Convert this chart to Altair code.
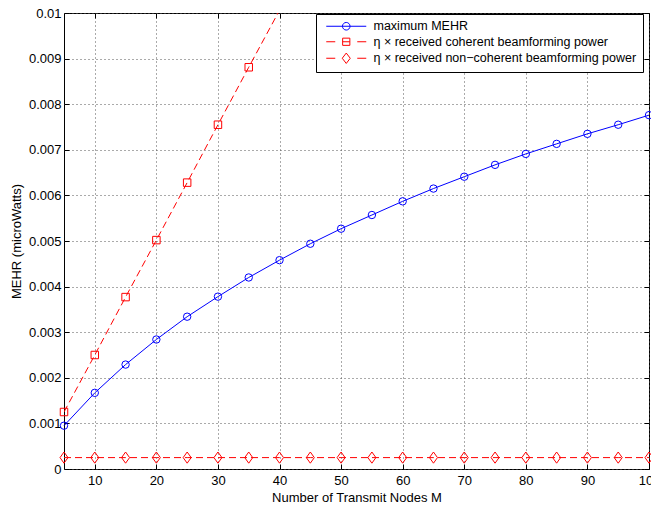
import altair as alt
import pandas as pd

FONT = "Liberation Sans"

# ---- data ----
M = [5, 10, 15, 20, 25, 30, 35, 40, 45, 50, 55, 60, 65, 70, 75, 80, 85, 90, 95, 100]
mehr = [0.00095, 0.00167, 0.00229, 0.00284, 0.00334, 0.00378, 0.00420, 0.00458,
        0.00494, 0.00527, 0.00557, 0.00587, 0.00615, 0.00641, 0.00667, 0.00691,
        0.00713, 0.00735, 0.00755, 0.00776]
M_coh = [5, 10, 15, 20, 25, 30, 35, 40]
coherent = [0.00125, 0.0025, 0.00377, 0.00502, 0.00628, 0.00755, 0.00881, 0.01006]
noncoherent = [0.00025, 0.00025, 0.00025, 0.00025, 0.00025, 0.00025, 0.00025,
               0.00025, 0.00025, 0.00025, 0.00025, 0.00025, 0.00025, 0.00025,
               0.00025, 0.00025, 0.00025, 0.00025, 0.00025, 0.00025]

series_names = ["maximum MEHR",
                "η × received coherent beamforming power",
                "η × received non−coherent beamforming power"]
series_colors = ["#0000ff", "#ff0000", "#ff0000"]

x_ticks = [10, 20, 30, 40, 50, 60, 70, 80, 90, 100]
y_ticks = [0, 0.001, 0.002, 0.003, 0.004, 0.005, 0.006, 0.007, 0.008, 0.009, 0.01]

# legend symbols: line segment(s) with the marker in the middle
legend_paths = [
    "M-5,0H5M0.95,0A0.95,0.95,0,1,1,-0.95,0A0.95,0.95,0,1,1,0.95,0",
    "M-5,0H-2.75M2.75,0H5M-0.9,-0.9H0.9V0.9H-0.9ZM-0.9,0H0.9",
    "M-5,0H-2.75M2.75,0H5M0,-1.3L1,0L0,1.3L-1,0Z",
]
diamond = "M0,-1.4L1,0L0,1.4L-1,0Z"

df_mehr = pd.DataFrame({"M": M, "value": mehr, "series": series_names[0]})
df_coh = pd.DataFrame({"M": M_coh, "value": coherent, "series": series_names[1]})
df_non = pd.DataFrame({"M": M, "value": noncoherent, "series": series_names[2]})
df_all = pd.concat([df_mehr, df_coh, df_non], ignore_index=True)

xs = alt.Scale(domain=[5, 100], nice=False, zero=False)
ys = alt.Scale(domain=[0, 0.01], nice=False, zero=False)

GRID = dict(grid=True, gridColor="#555555", gridDash=[1, 3], gridWidth=1)

ax_x_main = alt.Axis(orient="bottom", values=x_ticks, ticks=False, tickSize=0,
                     domain=False, labelPadding=5, labelFlush=False,
                     labelOverlap=False, title="Number of Transmit Nodes M",
                     titlePadding=4, **GRID)
ax_y_main = alt.Axis(orient="left", values=y_ticks, format=".3~f", ticks=False,
                     tickSize=0, domain=False, labelPadding=3, labelFlush=False,
                     labelOverlap=False, title="MEHR (microWatts)",
                     titlePadding=5, **GRID)


def tick_axis(orient, vals):
    return alt.Axis(orient=orient, values=vals, offset=-5, tickSize=5,
                    ticks=True, tickColor="black", tickWidth=1, labels=False,
                    domain=False, grid=False, title=None)


def enc(layer, xaxis=None, yaxis=None):
    xa = alt.X("M:Q", scale=xs, axis=xaxis)
    ya = alt.Y("value:Q", scale=ys, axis=yaxis)
    return layer.encode(x=xa, y=ya)


line_mehr = enc(alt.Chart(df_mehr).mark_line(color="#0000ff", strokeWidth=1),
                ax_x_main, ax_y_main)
pts_mehr = enc(alt.Chart(df_mehr).mark_point(shape="circle", filled=False,
                                             color="#0000ff", size=55,
                                             strokeWidth=1, opacity=1))
line_coh = enc(alt.Chart(df_coh).mark_line(color="#ff0000", strokeWidth=1,
                                           strokeDash=[7, 4], clip=True),
               tick_axis("bottom", x_ticks), tick_axis("left", y_ticks))
pts_coh = enc(alt.Chart(df_coh).transform_filter(alt.datum.value <= 0.01)
              .mark_point(shape="square", filled=False, color="#ff0000",
                          size=56, strokeWidth=1, opacity=1))
line_non = enc(alt.Chart(df_non).mark_line(color="#ff0000", strokeWidth=1,
                                           strokeDash=[7, 4]),
               tick_axis("top", x_ticks), tick_axis("right", y_ticks))
pts_non = enc(alt.Chart(df_non).mark_point(shape=diamond, filled=False,
                                           color="#ff0000", size=64,
                                           strokeWidth=1, opacity=1))

leg_props = dict(title=None, orient="none", legendX=252, legendY=1,
                 labelFont=FONT, labelFontSize=12.5, labelColor="black",
                 labelLimit=400, symbolSize=64, symbolStrokeWidth=1,
                 symbolOpacity=1, symbolOffset=18, labelOffset=21, padding=6,
                 rowPadding=2.5, strokeColor="black", fillColor="white",
                 cornerRadius=0)

legend_layer = (
    alt.Chart(df_all)
    .transform_filter(alt.datum.M < 0)
    .mark_point(filled=False, strokeWidth=1, opacity=1)
    .encode(
        color=alt.Color("series:N",
                        scale=alt.Scale(domain=series_names, range=series_colors),
                        legend=alt.Legend(**leg_props)),
        shape=alt.Shape("series:N",
                        scale=alt.Scale(domain=series_names, range=legend_paths),
                        legend=alt.Legend(**leg_props)),
    )
)

chart = (
    alt.layer(line_mehr, pts_mehr, line_coh, pts_coh, line_non, pts_non,
              legend_layer)
    .resolve_axis(x="independent", y="independent")
    .properties(
        width=585, height=456,
        autosize=alt.AutoSizeParams(type="none"),
        padding={"left": 56, "top": 5, "right": 2, "bottom": 36},
    )
    .configure_view(stroke="black", strokeWidth=1)
    .configure_axis(labelFont=FONT, titleFont=FONT, labelFontSize=13,
                    titleFontSize=13, titleFontWeight="normal",
                    labelColor="black", titleColor="black")
    .configure_legend(labelFont=FONT)
)

chart.save("out.html", embed_options={"renderer": "svg", "actions": False})
